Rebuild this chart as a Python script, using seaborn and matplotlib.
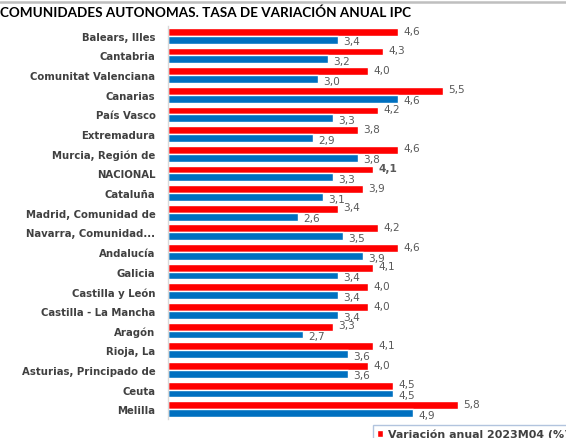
import numpy as np
import pandas as pd
import matplotlib.pyplot as plt
import seaborn as sns
from matplotlib.lines import Line2D
from matplotlib.patches import Patch

regiones = [
    'Balears, Illes', 'Cantabria', 'Comunitat Valenciana', 'Canarias', 'País Vasco',
    'Extremadura', 'Murcia, Región de', 'NACIONAL', 'Cataluña', 'Madrid, Comunidad de',
    'Navarra, Comunidad...', 'Andalucía', 'Galicia', 'Castilla y León',
    'Castilla - La Mancha', 'Aragón', 'Rioja, La', 'Asturias, Principado de',
    'Ceuta', 'Melilla',
]
var_abr = [4.6, 4.3, 4.0, 5.5, 4.2, 3.8, 4.6, 4.1, 3.9, 3.4,
           4.2, 4.6, 4.1, 4.0, 4.0, 3.3, 4.1, 4.0, 4.5, 5.8]
var_mar = [3.4, 3.2, 3.0, 4.6, 3.3, 2.9, 3.8, 3.3, 3.1, 2.6,
           3.5, 3.9, 3.4, 3.4, 3.4, 2.7, 3.6, 3.6, 4.5, 4.9]
series = ['Variación anual 2023M04 (%)', 'Variación anual 2023M03 (%)']

RED = '#FF0000'
BLUE = '#0070C0'

df = pd.DataFrame({
    'region': regiones * 2,
    'valor': var_abr + var_mar,
    'serie': [series[0]] * len(regiones) + [series[1]] * len(regiones),
})

sns.set_style('white')
plt.rcParams['font.family'] = ['DejaVu Sans']

W, H = 566, 439
fig = plt.figure(figsize=(W / 100, H / 100), dpi=100)
ax_w = 380
ax = fig.add_axes([168 / W, 1 - 420 / H, ax_w / W, 393 / H])

sns.barplot(data=df, y='region', x='valor', hue='serie', hue_order=series,
            orient='h', palette=[RED, BLUE], saturation=1, width=0.8,
            legend=False, ax=ax)

ax.set_xlim(0, ax_w / 50)
ax.set_ylim(19.5, -0.5)
ax.set_xlabel('')
ax.set_ylabel('')
ax.set_xticks([])
for s in ['top', 'right', 'bottom']:
    ax.spines[s].set_visible(False)
ax.spines['left'].set_color('#d9d9d9')
ax.spines['left'].set_linewidth(1)
ax.tick_params(axis='y', length=0, pad=9)
for lbl in ax.get_yticklabels():
    lbl.set_fontsize(7.3)
    lbl.set_fontweight('bold')
    lbl.set_color('#404040')

# value labels
for k, cont in enumerate(ax.containers):
    dy = 1.0 if k == 0 else -1.2
    for i, bar in enumerate(cont):
        v = bar.get_width()
        yc = bar.get_y() + bar.get_height() / 2
        bold = (k == 0 and regiones[i] == 'NACIONAL')
        ax.annotate(f'{v:.1f}'.replace('.', ','), (v, yc),
                    xytext=(3.8, dy), textcoords='offset points',
                    ha='left', va='center', fontsize=7.6,
                    fontweight='bold' if bold else 'normal', color='#595959')

# title and top frame line
fig.text(0.0, 1 - 13 / H, 'COMUNIDADES AUTONOMAS. TASA DE VARIACIÓN ANUAL IPC',
         ha='left', va='center', fontsize=9.7, fontweight='bold', color='black',
         family=['Lato', 'DejaVu Sans'])
fig.add_artist(Line2D([0, 1], [1 - 3 / H, 1 - 3 / H], transform=fig.transFigure,
                      color='#bfbfbf', lw=1.8))

handles = [Patch(facecolor=RED), Patch(facecolor=BLUE)]
leg = fig.legend(handles, series, loc='lower left', ncol=2,
                 bbox_to_anchor=(373 / W, -5 / H), frameon=True, fancybox=False,
                 prop={'size': 7.9, 'weight': 'bold'}, handlelength=0.6,
                 handleheight=0.6, handletextpad=0.4, borderpad=0.35,
                 columnspacing=1.0, borderaxespad=0)
leg.get_frame().set_edgecolor('#9fb6d6')
leg.get_frame().set_linewidth(1)
for t in leg.get_texts():
    t.set_color('#404040')

fig.savefig('out.png', dpi=100)
